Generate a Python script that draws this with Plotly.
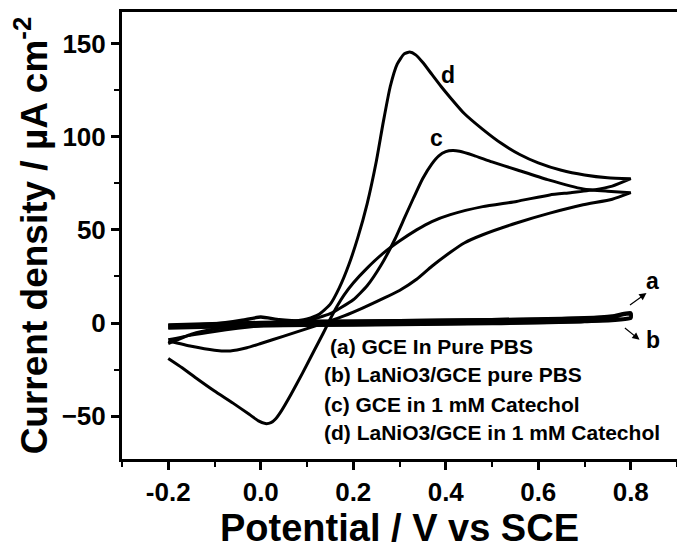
import plotly.graph_objects as go

# ---- data ----
# curve d: LaNiO3/GCE in 1 mM catechol
d_fwd_x = [-0.2, -0.15, -0.1, -0.05, 0.0, 0.05, 0.1, 0.125, 0.15, 0.17, 0.19, 0.21, 0.23, 0.25, 0.265, 0.28, 0.295, 0.31, 0.322,
           0.335, 0.35, 0.37, 0.39, 0.41, 0.44, 0.48, 0.52, 0.56, 0.6, 0.65, 0.7, 0.75, 0.8]
d_fwd_y = [-11, -6, -3.2, -1.8, -0.8, 0.3, 2.2, 4.5, 10, 19, 31, 46, 64, 87, 108, 127, 139, 144.5, 145.5,
           144, 140, 133.5, 127, 121, 112.5, 104, 96.5, 90.5, 86, 82, 79.5, 78, 77.5]
d_rev_x = [0.8, 0.76, 0.72, 0.67, 0.625, 0.553, 0.48, 0.41, 0.37, 0.337, 0.3, 0.265, 0.23, 0.2, 0.18, 0.165, 0.15, 0.135, 0.115,
           0.09, 0.065, 0.045, 0.032, 0.022, 0.01, -0.005, -0.025, -0.06, -0.1, -0.14, -0.17, -0.2]
d_rev_y = [77.5, 73.5, 71.5, 70, 68.8, 65.3, 62.5, 58.2, 54.5, 50, 44, 37.5, 29.5, 21.5, 15, 9, 2, -5.5, -15,
           -27, -38.5, -47, -51.5, -53.5, -54, -52.5, -49, -43, -36.5, -29.5, -24, -19]

# curve c: GCE in 1 mM catechol
c_fwd_x = [-0.2, -0.15, -0.1, -0.05, 0.0, 0.05, 0.1, 0.15, 0.2, 0.23, 0.26, 0.29, 0.31, 0.33, 0.35, 0.37, 0.385, 0.4, 0.415,
           0.43, 0.46, 0.5, 0.553, 0.62, 0.697, 0.75, 0.8]
c_fwd_y = [-9, -6.5, -4.5, -2.8, -1.5, -0.3, 1.2, 5, 12.5, 20, 31, 45, 56, 67, 77.5, 85.5, 89.8, 92, 92.6,
           92.2, 90, 86.5, 82.3, 77, 72, 70.8, 70]
c_rev_x = [0.8, 0.76, 0.697, 0.625, 0.553, 0.48, 0.44, 0.41, 0.37, 0.337, 0.3, 0.265, 0.22, 0.18, 0.14, 0.1, 0.05, 0.0,
           -0.03, -0.066, -0.1, -0.15, -0.2]
c_rev_y = [70, 66.5, 63.5, 59, 53.7, 47.4, 43, 38, 30.5, 23.5, 17.5, 13.2, 8, 3.8, 0.3, -3, -7, -11,
           -13.3, -15, -14.6, -12.5, -9.5]

# curve a: GCE in pure PBS
a_x = [-0.2, 0.0, 0.2, 0.4, 0.6, 0.7, 0.76, 0.8, 0.8, 0.7, 0.5, 0.2, 0.0, -0.2]
a_y = [-1.0, 0.3, 1.0, 1.5, 2.0, 2.6, 3.4, 5.0, 3.0, 1.0, 0.0, -0.8, -1.3, -2.3]
# curve b: LaNiO3/GCE in pure PBS
b_x = [-0.2, -0.1, -0.04, 0.0, 0.04, 0.1, 0.2, 0.4, 0.6, 0.7, 0.76, 0.8, 0.8, 0.7, 0.5, 0.2, 0.0, -0.2]
b_y = [-1.5, -0.5, 1.5, 3.2, 1.8, 1.0, 1.0, 1.5, 2.2, 2.8, 3.8, 5.5, 2.6, 0.8, -0.2, -1.0, -1.5, -2.6]

legend_lines = ["(a) GCE In Pure PBS",
                "(b) LaNiO3/GCE pure PBS",
                "(c) GCE in 1 mM Catechol",
                "(d) LaNiO3/GCE in 1 mM Catechol"]
legend_x = [0.146, 0.132, 0.132, 0.132]
legend_y = [-12.6, -27.5, -43.9, -59.0]

x_ticks = [-0.2, 0.0, 0.2, 0.4, 0.6, 0.8]
x_ticktext = ["-0.2", "0.0", "0.2", "0.4", "0.6", "0.8"]
y_ticks = [-50, 0, 50, 100, 150]

FONT = "Liberation Sans, Arial, sans-serif"

fig = go.Figure()
line = dict(color="black", width=3, shape="spline", smoothing=0.5)
thick = dict(color="black", width=3.5, shape="spline", smoothing=0.5)
fig.add_trace(go.Scatter(x=a_x, y=a_y, mode="lines", line=thick))
fig.add_trace(go.Scatter(x=b_x, y=b_y, mode="lines", line=thick))
fig.add_trace(go.Scatter(x=c_fwd_x + c_rev_x, y=c_fwd_y + c_rev_y, mode="lines", line=line))
fig.add_trace(go.Scatter(x=d_fwd_x + d_rev_x, y=d_fwd_y + d_rev_y, mode="lines", line=line))

lab_font = dict(family=FONT, size=23, color="black", weight="bold")
fig.add_annotation(x=0.405, y=133, text="d", showarrow=False, font=lab_font)
fig.add_annotation(x=0.38, y=99.5, text="c", showarrow=False, font=lab_font)
fig.add_annotation(x=0.848, y=22.5, text="a", showarrow=False, font=lab_font)
fig.add_annotation(x=0.848, y=-9, text="b", showarrow=False, font=lab_font)
fig.add_annotation(x=0.834, y=16.1, ax=0.794, ay=8.9, axref="x", ayref="y", xref="x", yref="y", text=" ",
                   showarrow=True, arrowhead=2, arrowsize=1.2, arrowwidth=1.2, arrowcolor="black",
                   font=dict(size=2))
fig.add_annotation(x=0.819, y=-9, ax=0.783, ay=-1.8, axref="x", ayref="y", xref="x", yref="y", text=" ",
                   showarrow=True, arrowhead=2, arrowsize=1.2, arrowwidth=1.2, arrowcolor="black",
                   font=dict(size=2))

for t, lx, ly in zip(legend_lines, legend_x, legend_y):
    fig.add_annotation(x=lx, y=ly, text=t, showarrow=False, xanchor="left", yanchor="middle",
                       font=dict(family=FONT, size=21, color="black", weight="bold"))

# page body has an 8px margin, so the figure is sized to fit the 685x550 window
fig.update_layout(
    width=677, height=542,
    margin=dict(l=114, r=8, t=4, b=91),
    paper_bgcolor="white", plot_bgcolor="white",
    showlegend=False,
    font=dict(family=FONT, color="black"),
)
fig.update_xaxes(
    range=[-0.3, 0.9], tickvals=x_ticks, ticktext=x_ticktext,
    showgrid=False, zeroline=False, automargin=False,
    showline=True, linecolor="black", linewidth=3, mirror=True,
    ticks="outside", ticklen=8, tickwidth=3, tickcolor="black",
    minor=dict(dtick=0.1, tick0=-0.3, ticks="outside", ticklen=5, tickwidth=2, tickcolor="black"),
    tickfont=dict(family=FONT, size=26, color="black", weight="bold"),
    title=dict(text="Potential / V vs SCE", font=dict(family=FONT, size=38, color="black", weight="bold"), standoff=6),
)
fig.update_yaxes(
    range=[-73, 167], tickvals=y_ticks,
    showgrid=False, zeroline=False, automargin=False,
    showline=True, linecolor="black", linewidth=3, mirror=True,
    ticks="outside", ticklen=8, tickwidth=3, tickcolor="black",
    minor=dict(dtick=25, tick0=-75, ticks="outside", ticklen=5, tickwidth=2, tickcolor="black"),
    tickfont=dict(family=FONT, size=26, color="black", weight="bold"),
    title=dict(text="Current density / µA cm<sup>-2</sup>", font=dict(family=FONT, size=37, color="black", weight="bold"), standoff=10),
)

fig.write_html("out.html")
